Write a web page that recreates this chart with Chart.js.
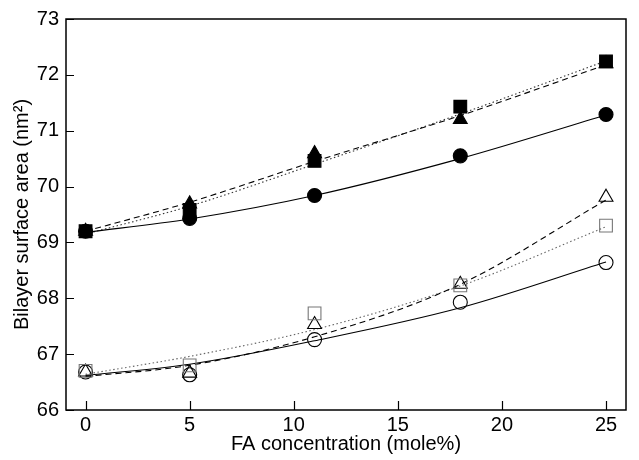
<!DOCTYPE html>
<html>
<head>
<meta charset="utf-8">
<script src="https://cdn.jsdelivr.net/npm/chart.js@4.4.1/dist/chart.umd.min.js"></script>
<style>
  html, body { margin: 0; background: #fff; }
  #wrap { width: 639px; height: 460px; }
</style>
</head>
<body>
<div id="wrap"><canvas id="chart"></canvas></div>
<script>
// FA concentration (mole%)
var conc = [0, 5, 11, 18, 25];

// upper group, filled symbols
var filledCircle   = [69.2, 69.43, 69.84, 70.55, 71.29];
var filledTriangle = [69.2, 69.69, 70.59, 71.2, 72.2];
var filledSquare   = [69.2, 69.58, 70.46, 71.43, 72.24];

// lower group, open symbols
var openCircle   = [66.68, 66.63, 67.26, 67.93, 68.64];
var openTriangle = [66.68, 66.66, 67.53, 68.25, 69.81];
var openSquare   = [66.7, 66.8, 67.73, 68.23, 69.3];

// fitted curves at the same concentrations
var fitFilledCircle   = [69.18, 69.42, 69.84, 70.5, 71.28];
var fitFilledTriangle = [69.2, 69.72, 70.45, 71.27, 72.18];
var fitFilledSquare   = [69.15, 69.65, 70.4, 71.3, 72.25];
var fitOpenCircle     = [66.62, 66.82, 67.24, 67.83, 68.65];
var fitOpenTriangle   = [66.6, 66.8, 67.31, 68.25, 69.76];
var fitOpenSquare     = [66.64, 66.96, 67.44, 68.22, 69.28];

var xTicks = [0, 5, 10, 15, 20, 25];
var yTicks = [66, 67, 68, 69, 70, 71, 72, 73];

function pts(ys) {
  return conc.map(function (x, i) { return { x: x, y: ys[i] }; });
}

function fit(ys, dash, color) {
  return {
    data: pts(ys), showLine: true, pointRadius: 0, borderColor: color,
    borderWidth: 1.1, borderDash: dash, cubicInterpolationMode: 'monotone', order: 2
  };
}

function marks(ys, style, radius, fill, stroke) {
  return {
    data: pts(ys), showLine: false, pointStyle: style, pointRadius: radius,
    backgroundColor: fill, borderColor: stroke, pointBorderWidth: 1.1, order: 1
  };
}

// box around the plot and inward tick marks
var frame = {
  id: 'frame',
  afterDraw: function (chart) {
    var a = chart.chartArea, ctx = chart.ctx;
    var sx = chart.scales.x, sy = chart.scales.y;
    ctx.save();
    ctx.strokeStyle = '#000';
    ctx.lineWidth = 1.5;
    ctx.strokeRect(a.left, a.top, a.right - a.left, a.bottom - a.top);
    ctx.lineWidth = 1.2;
    ctx.beginPath();
    sx.ticks.forEach(function (t) {
      var px = Math.round(sx.getPixelForValue(t.value)) + 0.5;
      ctx.moveTo(px, a.bottom); ctx.lineTo(px, a.bottom - 9);
    });
    sy.ticks.forEach(function (t) {
      var py = Math.round(sy.getPixelForValue(t.value)) + 0.5;
      ctx.moveTo(a.left, py); ctx.lineTo(a.left + 8, py);
    });
    ctx.stroke();
    ctx.restore();
  }
};

var font = { family: "'Liberation Sans', Arial, sans-serif", size: 20 };

new Chart(document.getElementById('chart'), {
  type: 'scatter',
  data: {
    datasets: [
      fit(fitFilledCircle, [], '#000'),
      fit(fitFilledTriangle, [6, 4], '#000'),
      fit(fitFilledSquare, [1.5, 2.5], '#333'),
      fit(fitOpenCircle, [], '#000'),
      fit(fitOpenTriangle, [6, 4], '#000'),
      fit(fitOpenSquare, [1.5, 2.5], '#666'),
      marks(filledSquare, 'rect', 9, '#000', '#000'),
      marks(filledTriangle, 'triangle', 8, '#000', '#000'),
      marks(filledCircle, 'circle', 7, '#000', '#000'),
      marks(openSquare, 'rect', 9, 'rgba(0,0,0,0)', '#777'),
      marks(openTriangle, 'triangle', 8, 'rgba(0,0,0,0)', '#000'),
      marks(openCircle, 'circle', 7, 'rgba(0,0,0,0)', '#000')
    ]
  },
  options: {
    responsive: true,
    maintainAspectRatio: false,
    animation: false,
    layout: { padding: { top: 18, right: 13, left: 0, bottom: 0 } },
    plugins: { legend: { display: false }, tooltip: { enabled: false } },
    scales: {
      x: {
        type: 'linear', min: -0.94, max: 25.96,
        afterBuildTicks: function (s) { s.ticks = xTicks.map(function (v) { return { value: v }; }); },
        afterFit: function (s) { s.height = 50; },
        grid: { display: false, drawTicks: false },
        border: { display: false },
        ticks: { color: '#000', font: font, padding: 3, maxRotation: 0 },
        title: { display: true, text: 'FA concentration (mole%)', color: '#000', font: font, padding: { top: 0, bottom: 4 } }
      },
      y: {
        type: 'linear', min: 66, max: 73,
        afterBuildTicks: function (s) { s.ticks = yTicks.map(function (v) { return { value: v }; }); },
        afterFit: function (s) { s.width = 66; },
        grid: { display: false, drawTicks: false },
        border: { display: false },
        ticks: { color: '#000', font: font, padding: 7 },
        title: { display: true, text: 'Bilayer surface area (nm\u00B2)', color: '#000', font: font, padding: { top: 10, bottom: 0 } }
      }
    }
  },
  plugins: [frame]
});
</script>
</body>
</html>
